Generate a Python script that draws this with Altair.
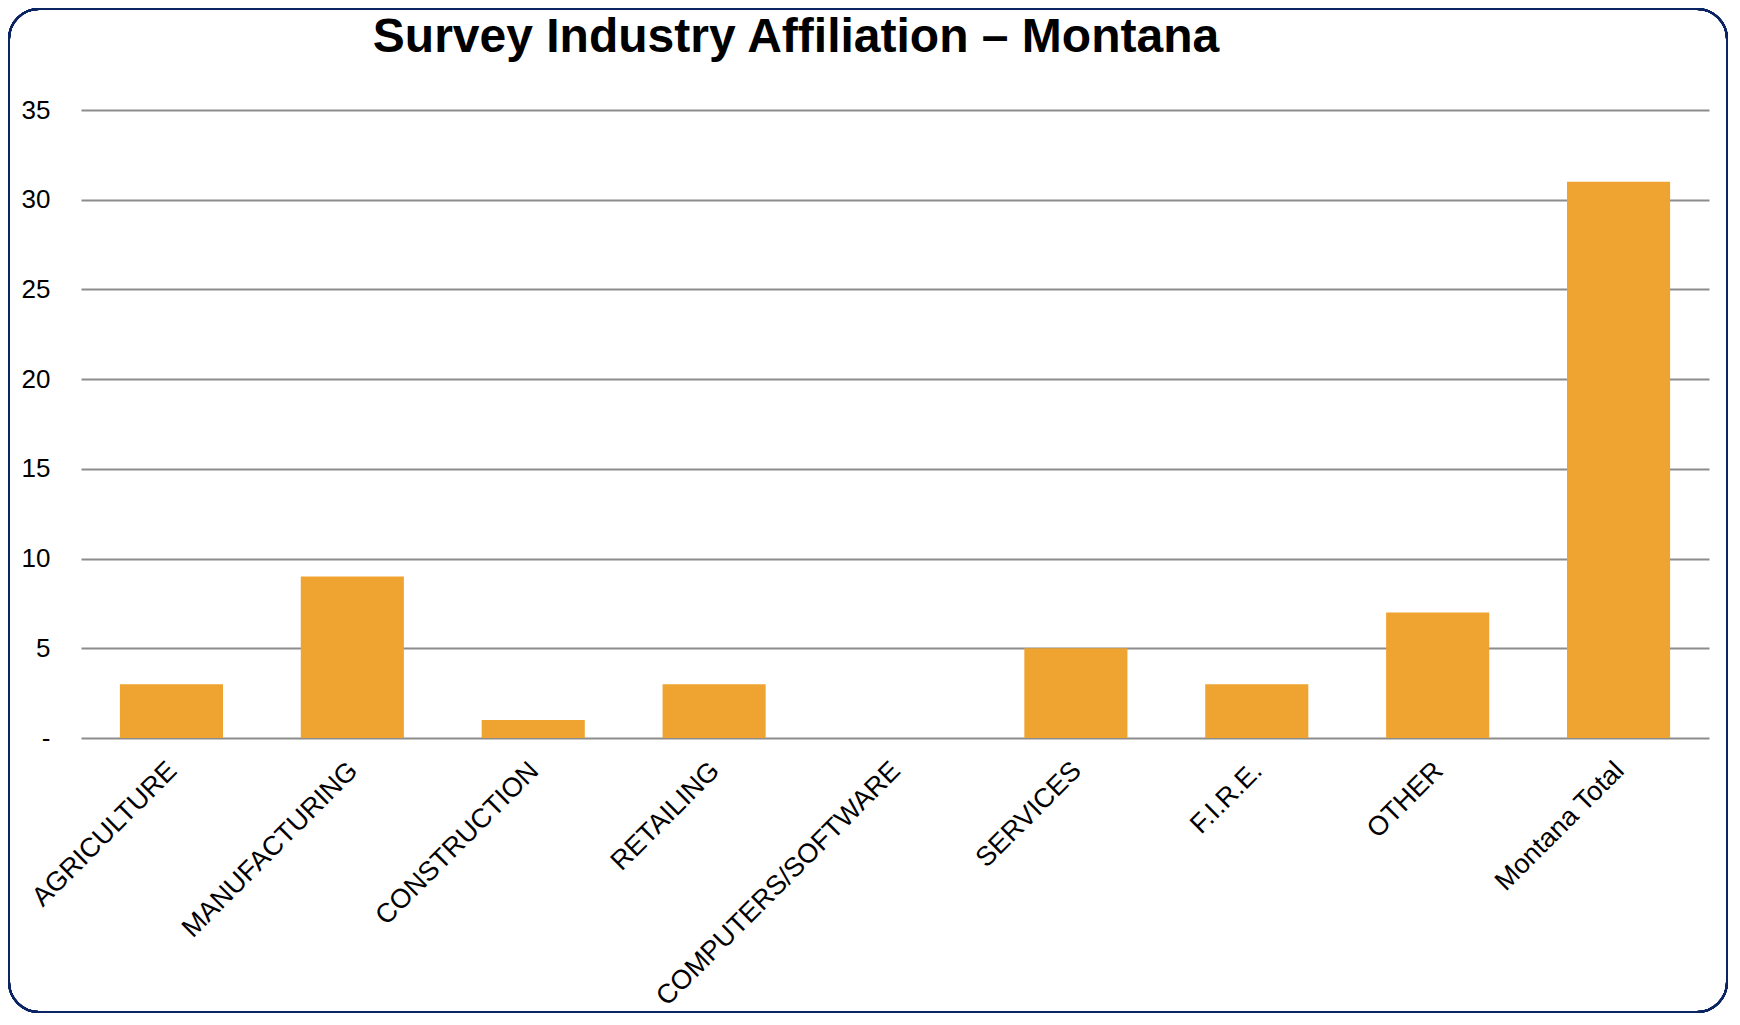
import altair as alt
import pandas as pd

categories = ["AGRICULTURE", "MANUFACTURING", "CONSTRUCTION", "RETAILING",
              "COMPUTERS/SOFTWARE", "SERVICES", "F.I.R.E.", "OTHER", "Montana Total"]
counts = [3, 9, 1, 3, 0, 5, 3, 7, 31]
y_ticks = [0, 5, 10, 15, 20, 25, 30, 35]
title_text = "Survey Industry Affiliation \u2013 Montana"

df = pd.DataFrame({"industry": categories, "count": counts})

FONT = "Liberation Sans"

bars = alt.Chart(df).mark_bar(color="#EFA331").encode(
    x=alt.X("industry:N", sort=categories,
            scale=alt.Scale(paddingInner=0.43, paddingOuter=0.215),
            axis=alt.Axis(title=None, labelAngle=-45, labelAlign="right",
                          labelBaseline="top", labelPadding=19, labelOffset=-8,
                          labelFontSize=27, labelFont=FONT, labelColor="#000000",
                          ticks=False, domain=False, grid=False, labelOverlap=False,
                          labelLimit=500)),
    y=alt.Y("count:Q", scale=alt.Scale(domain=[0, 35], nice=False),
            axis=alt.Axis(title=None, values=y_ticks, labelFontSize=26, labelFont=FONT,
                          labelColor="#000000", labelPadding=31, ticks=False, domain=False,
                          grid=True, gridColor="#8c8c8c", gridWidth=2,
                          labelExpr="datum.value == 0 ? '-\u2007' : datum.label")),
)

border = alt.Chart(df).mark_rect(fillOpacity=0, stroke="#0b2463", strokeWidth=2,
                                 cornerRadius=30).encode(
    x=alt.value(-72), x2=alt.value(1646), y=alt.value(-101), y2=alt.value(902)
)

title = alt.Chart(pd.DataFrame({"t": [title_text]})).mark_text(
    font=FONT, fontSize=48, fontWeight="bold", color="#000000",
    align="center", baseline="alphabetic"
).encode(text="t:N", x=alt.value(715), y=alt.value(-58))

chart = alt.layer(border, bars, title).properties(
    width=1628, height=628,
    autosize=alt.AutoSizeParams(type="none"),
    padding={"left": 73, "top": 102, "right": 19, "bottom": 275},
).configure_view(stroke=None)

chart.save("out.html", embed_options={"renderer": "svg", "actions": False})
